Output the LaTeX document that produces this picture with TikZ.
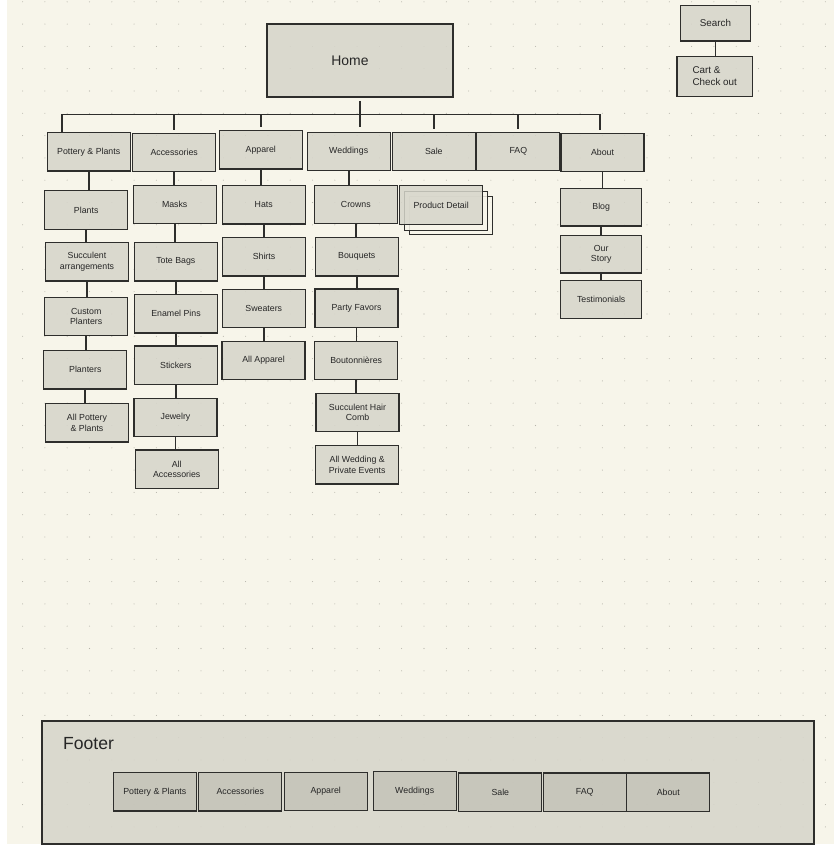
\documentclass[tikz,border=0pt]{standalone}
\usepackage{fontspec}
\setmainfont{Liberation Sans}
\usetikzlibrary{shadows}
\definecolor{paper}{RGB}{247,245,234}
\definecolor{boxfill}{RGB}{214,213,202}
\definecolor{itemfill}{RGB}{196,195,184}
\definecolor{edge}{RGB}{46,46,44}
\definecolor{ink}{RGB}{38,38,38}
\definecolor{griddot}{RGB}{182,180,170}

\begin{document}
\begin{tikzpicture}[
		x=0.03cm, y=-0.03cm,
		every node/.style={font=\fontsize{7.5}{8.8}\selectfont, text=ink},
		page/.style={draw=edge, line width=1pt, fill=boxfill, fill opacity=0.85, text opacity=1, align=center, inner sep=1pt, minimum width=2.49cm, minimum height=1.15cm},
		homebox/.style={page, line width=1.6pt, minimum width=5.58cm, minimum height=2.19cm, font=\fontsize{11.9}{14}\selectfont},
		toolbox/.style={page, font=\fontsize{8.4}{9.9}\selectfont},
		footbox/.style={page, line width=1.7pt, minimum width=23.16cm, minimum height=3.68cm},
		footitem/.style={page, fill=itemfill},
		stack/.style={page,
			copy shadow={shadow xshift=0.28cm, shadow yshift=-0.315cm, fill=paper, draw=edge, line width=0.8pt},
			copy shadow={shadow xshift=0.14cm, shadow yshift=-0.18cm, fill=paper, draw=edge, line width=0.8pt}},
		link/.style={draw=edge, line width=1.6pt}
	]
		\useasboundingbox (0,0) rectangle (834,858);
		\fill[white] (0,0) rectangle (834,858);
		\fill[paper] (7.3,0) rectangle (834,844);
		% dotted grid
		\foreach \i in {0,...,36}
			\foreach \j in {0,...,37}
				\fill[griddot] (22.6+\i*22.3, 1.8+\j*22.3) circle (0.45pt);

		% top level
		\node[homebox] (home) at (360,60.5) {Home\hspace*{0.6cm}};
		\node[toolbox, minimum width=2.115cm, minimum height=1.06cm]
			(search) at (715.5,23.4)
			{Search};
		\node[toolbox, align=left, minimum width=2.26cm, minimum height=1.2cm]
			(cart) at (714.7,76.3)
			{Cart \&\\Check out};

		\node[page] (pp) at (88.7,151.9) {Pottery \& Plants};
		\node[page] (acc) at (174.2,152.3) {Accessories};
		\node[page] (app) at (260.8,149.9) {Apparel};
		\node[page] (wed) at (348.7,151.3) {Weddings};
		\node[page] (sale) at (433.8,151.7) {Sale};
		\node[page] (faq) at (518.3,151.7) {FAQ};
		\node[page] (about) at (602.5,152.3) {About};

		% pottery & plants
		\node[page] (plants) at (86.2,210) {Plants};
		\node[page] (succ) at (87,261.8) {Succulent\\arrangements};
		\node[page] (custom) at (86.2,316.5) {Custom\\Planters};
		\node[page] (planters) at (85.3,369.8) {Planters};
		\node[page] (allpp) at (87,422.8) {All Pottery\\\& Plants};

		% accessories
		\node[page] (masks) at (174.7,204.3) {Masks};
		\node[page] (tote) at (175.8,261.8) {Tote Bags};
		\node[page] (pins) at (176,313.8) {Enamel Pins};
		\node[page] (stickers) at (175.8,365.2) {Stickers};
		\node[page] (jewelry) at (175.5,417.5) {Jewelry};
		\node[page] (allacc) at (176.7,469.2) {All\\Accessories};

		% apparel
		\node[page] (hats) at (263.7,204.8) {Hats};
		\node[page] (shirts) at (264,256.8) {Shirts};
		\node[page] (sweaters) at (263.8,308.3) {Sweaters};
		\node[page] (allapp) at (263.5,360.5) {All Apparel};

		% weddings
		\node[page] (crowns) at (355.8,204.3) {Crowns};
		\node[page] (bouq) at (356.8,256.8) {Bouquets};
		\node[page] (party) at (356.5,308.2) {Party Favors};
		\node[page] (bout) at (356.2,360.5) {Boutonnières};
		\node[page] (hair) at (357.5,412.3) {Succulent Hair\\Comb};
		\node[page] (allwed) at (357.2,464.8) {All Wedding \&\\Private Events};

		% sale
		\node[stack] (detail) at (441.2,205) {Product Detail};

		% about
		\node[page, minimum width=2.43cm, minimum height=1.125cm] (blog) at (601.2,207.3) {Blog};
		\node[page, minimum width=2.43cm, minimum height=1.125cm] (story) at (601.2,254.3) {Our\\Story};
		\node[page, minimum width=2.43cm, minimum height=1.125cm] (testi) at (601.2,299.5) {Testimonials};

		% tree lines
		\coordinate (barL) at (62.3,114.5);
		\coordinate (barR) at (600,114.5);
		\draw[link, shorten >=2.5pt]
			(barL |- pp.north) -- (barL) -- (barR) -- (barR |- about.north);
		\draw[link, shorten <=2.5pt, shorten >=4pt] (home.south) -- (home.south |- wed.north);
		\foreach \n in {acc,app,sale,faq}
			\draw[link, shorten >=2.5pt] (\n.north |- barL) -- (\n.north);
		\foreach \up/\down in {pp/plants, plants/succ, succ/custom, custom/planters, planters/allpp,
				acc/masks, masks/tote, tote/pins, pins/stickers, stickers/jewelry, jewelry/allacc,
				app/hats, hats/shirts, shirts/sweaters, sweaters/allapp,
				wed/crowns, crowns/bouq, bouq/party, party/bout, bout/hair, hair/allwed,
				about/blog, blog/story, story/testi, search/cart}
			\draw[link] (\up.south) -- (\up.south |- \down.north);

		% footer
		\node[footbox] (footer) at (427.7,782.7) {};
		\node[anchor=west, font=\fontsize{15}{18}\selectfont] (footlbl) at (59,743.3) {Footer};
		\node[footitem] (fpp) at (154.8,791.8) {Pottery \& Plants};
		\node[footitem] (facc) at (240.3,791.8) {Accessories};
		\node[footitem] (fapp) at (325.7,791.5) {Apparel};
		\node[footitem] (fwed) at (414.7,791) {Weddings};
		\node[footitem] (fsale) at (500.3,792.2) {Sale};
		\node[footitem] (ffaq) at (584.7,792.2) {FAQ};
		\node[footitem] (fabout) at (668.3,792.2) {About};
	\end{tikzpicture}
\end{document}
